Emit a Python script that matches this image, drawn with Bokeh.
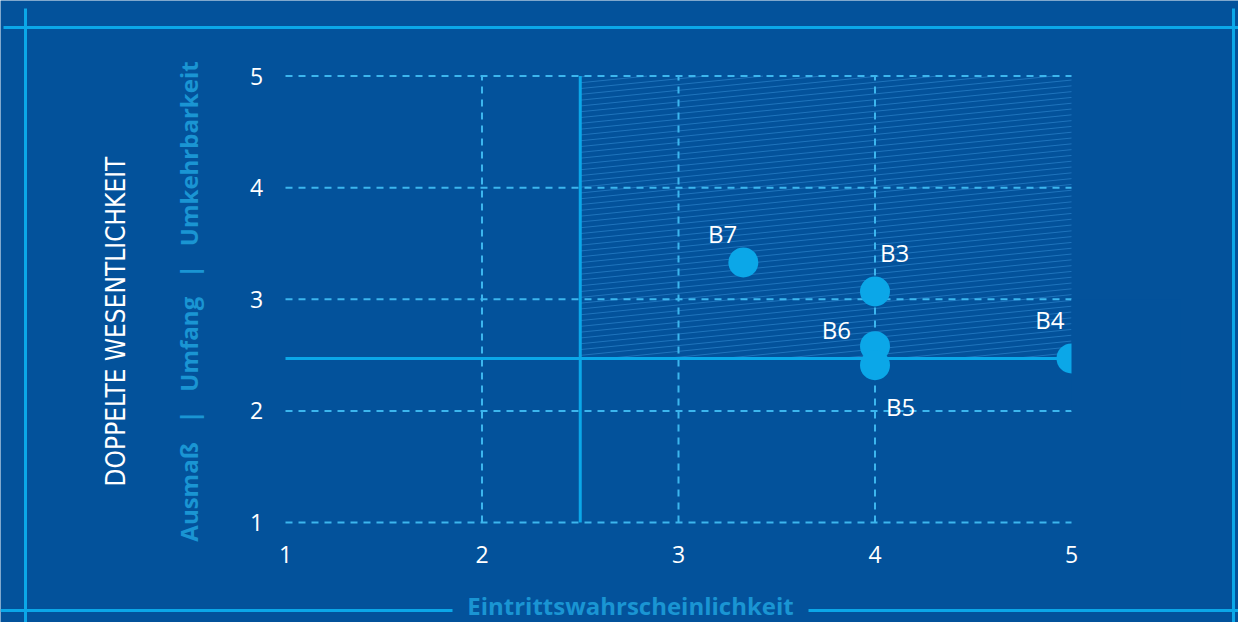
import numpy as np
from bokeh.plotting import figure
from bokeh.models import ColumnDataSource, Range1d
from bokeh.core.properties import value
from bokeh.embed import file_html
from bokeh.resources import INLINE

# ---------------- data ----------------
names = ["B7", "B3", "B6", "B5", "B4"]
probability = [3.33, 4.0, 4.0, 4.0, 5.0]
materiality = [3.33, 3.07, 2.58, 2.41, 2.47]
x_ticks = [1, 2, 3, 4, 5]
y_ticks = [1, 2, 3, 4, 5]
x_threshold = 2.5
y_threshold = 2.47
x_title = "Eintrittswahrscheinlichkeit"
y_title = "DOPPELTE WESENTLICHKEIT"
y_subtitle = "Ausmaß\u00a0\u00a0\u00a0|\u00a0\u00a0\u00a0Umfang\u00a0\u00a0\u00a0|\u00a0\u00a0\u00a0Umkehrbarkeit"

# label placement (screen pixels, style only)
lab_dx = [-6, 5, -24, 11, -7]
lab_dy = [-12, -22, 0, 25, -22]
lab_align = ["right", "left", "right", "left", "right"]
lab_base = ["bottom", "bottom", "bottom", "top", "bottom"]

# ---------------- styling ----------------
BG = "#03529b"
BRIGHT = "#0ba7e8"
GRID = "#3cb6ee"
HATCH = "#1f74bc"
TITLE = "#1a95d3"
FONT = "Open Sans"

W, H = 1238, 622
PX = 196.5          # pixels per x unit
PY = 111.6          # pixels per y unit
x1px = 285          # where x=1 sits on the canvas
y1px = 522          # where y=1 sits on the canvas
x_start = 1 - x1px / PX
x_end = x_start + W / PX
y_start = 1 - (H - y1px) / PY
y_end = y_start + H / PY


def fx(px):
    return x_start + px / PX


def fy(py):
    return y_end - py / PY


p = figure(width=W, height=H, x_range=Range1d(x_start, x_end), y_range=Range1d(y_start, y_end),
           output_backend="svg", toolbar_location=None, min_border=0,
           x_axis_location=None, y_axis_location=None)
p.grid.visible = False
p.outline_line_color = None
p.background_fill_color = BG
p.border_fill_color = BG

xmin, xmax = min(x_ticks), max(x_ticks)
ymin, ymax = min(y_ticks), max(y_ticks)

# ---------------- hatch in critical quadrant ----------------
m = 0.1 * PX / PY          # slope of hatch lines in data units
step = 5.8 / PY
hx0, hy0, hx1, hy1 = [], [], [], []
b = y_threshold - m * (xmax - x_threshold)
while b < ymax:
    xa = max(x_threshold, x_threshold + (y_threshold - b) / m)
    xb = min(xmax, x_threshold + (ymax - b) / m)
    if xb > xa:
        hx0.append(xa); hy0.append(b + m * (xa - x_threshold))
        hx1.append(xb); hy1.append(b + m * (xb - x_threshold))
    b += step
p.segment(hx0, hy0, hx1, hy1, line_color=HATCH, line_width=1)

# ---------------- dashed grid ----------------
gx = [t for t in x_ticks if xmin < t < xmax]
p.segment(gx, [ymin] * len(gx), gx, [ymax] * len(gx), line_color=GRID, line_width=2, line_dash="7 6")
p.segment([xmin] * len(y_ticks), y_ticks, [xmax] * len(y_ticks), y_ticks,
          line_color=GRID, line_width=2, line_dash="7 6")

# ---------------- threshold lines ----------------
p.segment([x_threshold], [ymin], [x_threshold], [ymax], line_color=BRIGHT, line_width=3)
p.segment([xmin], [y_threshold], [xmax], [y_threshold], line_color=BRIGHT, line_width=3)

# ---------------- points ----------------
src = ColumnDataSource(dict(x=probability, y=materiality, name=names, dx=lab_dx, dy=lab_dy,
                            align=lab_align, base=lab_base))
p.scatter("x", "y", source=src, size=30, fill_color=BRIGHT, line_color=None)
# clip anything beyond the plotting area on the right
p.quad(left=[xmax], right=[fx(1180)], bottom=[ymin + 1.0], top=[ymin + 2.0], fill_color=BG, line_color=None)
p.text("x", "y", text="name", source=src, x_offset="dx", y_offset="dy", text_align="align",
       text_baseline="base", text_color="white", text_font=value(FONT), text_font_size="24px")

# ---------------- tick labels ----------------
p.text(x_ticks, [fy(553.5)] * len(x_ticks), text=[str(t) for t in x_ticks], text_align="center",
       text_baseline="middle", text_color="white", text_font=value(FONT), text_font_size="23px")
p.text([fx(256)] * len(y_ticks), y_ticks, text=[str(t) for t in y_ticks], text_align="center",
       text_baseline="middle", text_color="white", text_font=value(FONT), text_font_size="23px")

# ---------------- frame decoration ----------------
p.segment([fx(3)], [fy(27)], [fx(1238)], [fy(27)], line_color=BRIGHT, line_width=3)
p.segment([fx(25)], [fy(8)], [fx(25)], [fy(630)], line_color=BRIGHT, line_width=3)
p.segment([fx(1233)], [fy(8)], [fx(1233)], [fy(630)], line_color=BRIGHT, line_width=3)
p.segment([fx(0), fx(808)], [fy(610)] * 2, [fx(452), fx(1238)], [fy(610)] * 2, line_color=BRIGHT, line_width=3)

# ---------------- titles ----------------
p.text([fx(630)], [fy(605)], text=[x_title], text_align="center", text_baseline="middle",
       text_color=TITLE, text_font=value(FONT), text_font_style="bold", text_font_size="24px")
p.text([fx(188)], [fy(301)], text=[y_subtitle], angle=np.pi / 2, text_align="center",
       text_baseline="middle", text_color=TITLE, text_font=value(FONT), text_font_style="bold",
       text_font_size="24px")
p.text([fx(115)], [fy(321)], text=[y_title], angle=np.pi / 2, text_align="center",
       text_baseline="middle", text_color="white",
       text_font=value("Liberation Sans Narrow, DejaVu Sans Condensed, sans-serif"),
       text_font_size="26px")

open("out.html", "w").write(file_html(p, INLINE))
